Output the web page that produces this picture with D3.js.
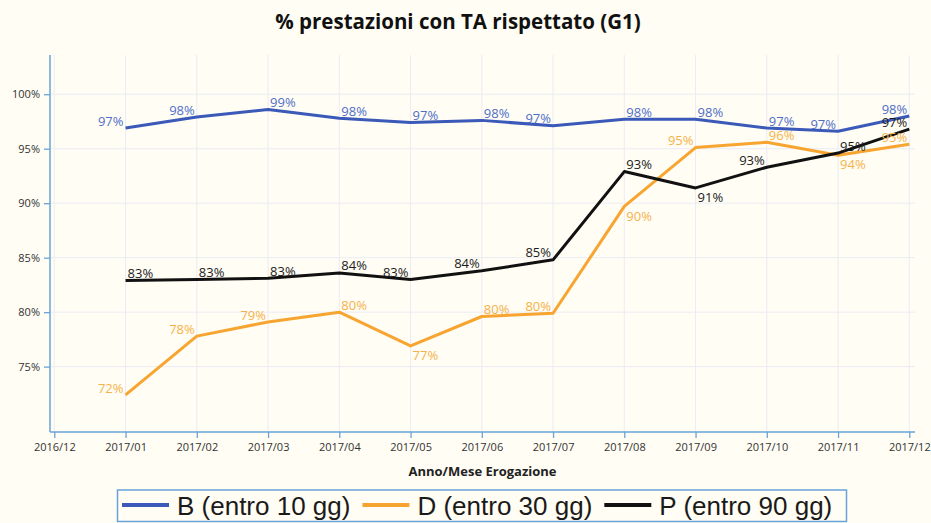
<!DOCTYPE html>
<html>
<head>
<meta charset="utf-8">
<script src="https://cdn.jsdelivr.net/npm/d3@7"></script>
<style>
  html, body { margin: 0; padding: 0; background: #fffdf4; }
  svg { display: block; }
</style>
</head>
<body>
<svg id="chart" width="931" height="523"></svg>
<script>
// ---- data ----
const months = ["2016/12","2017/01","2017/02","2017/03","2017/04","2017/05","2017/06","2017/07","2017/08","2017/09","2017/10","2017/11","2017/12"];
const dataMonths = ["2017/01","2017/02","2017/03","2017/04","2017/05","2017/06","2017/07","2017/08","2017/09","2017/10","2017/11","2017/12"];
const valuesB = [96.9, 97.9, 98.6, 97.8, 97.4, 97.6, 97.1, 97.7, 97.7, 96.9, 96.6, 98.0];
const valuesD = [72.4, 77.8, 79.1, 80.0, 76.9, 79.6, 79.9, 89.7, 95.1, 95.6, 94.4, 95.4];
const valuesP = [82.9, 83.0, 83.1, 83.6, 83.0, 83.8, 84.8, 92.9, 91.4, 93.3, 94.6, 96.8];
const labelPosB = ["tl","tl","tr","tr","tr","tr","tl","tr","tr","tr","tl","tl"];
const labelPosD = ["tl","tl","tl","tr","br","tr","tl","br","tl","tr","br","tl"];
const labelPosP = ["tr","tr","tr","tr","tl","tl","tl","tr","br","tl","tr","tl"];
const yTicks = [75, 80, 85, 90, 95, 100];
const seriesNames = ["B (entro 10 gg)", "D (entro 30 gg)", "P (entro 90 gg)"];
const title = "% prestazioni con TA rispettato (G1)";
const xTitle = "Anno/Mese Erogazione";

// ---- styles ----
const colors = { B: "#3a59b8", D: "#f7a530", P: "#111111" };
const labelColors = { B: "#4f6ec9", D: "#f6b24a", P: "#1c1c1c" };
const axisColor = "#6aa3d8";
const gridColor = "#ebecf5";
const font = "'Open Sans', 'DejaVu Sans', sans-serif";

const svg = d3.select("#chart");
svg.append("rect").attr("width", 931).attr("height", 523).attr("fill", "#fffdf4");

const plot = { left: 50, right: 915, top: 55, bottom: 432 };

const x = d3.scalePoint().domain(months).range([54.3, 909.3]);
const y = d3.scaleLinear().domain([69, 103.6]).range([plot.bottom, plot.top]);

// grid
const grid = svg.append("g");
grid.selectAll("line.h").data(yTicks).join("line")
  .attr("x1", plot.left).attr("x2", plot.right)
  .attr("y1", d => y(d)).attr("y2", d => y(d))
  .attr("stroke", gridColor).attr("stroke-width", 1);
grid.selectAll("line.v").data(months).join("line")
  .attr("x1", d => x(d)).attr("x2", d => x(d))
  .attr("y1", plot.top).attr("y2", plot.bottom)
  .attr("stroke", gridColor).attr("stroke-width", 1);

// axes
const yAxis = d3.axisLeft(y).tickValues(yTicks).tickFormat(d => d + "%").tickSize(6).tickPadding(4);
const yg = svg.append("g").attr("transform", `translate(${plot.left},0)`).call(yAxis);
yg.select(".domain").attr("d", `M0,${plot.top}V${plot.bottom}`);

const xAxis = d3.axisBottom(x).tickSize(6).tickPadding(5);
const xg = svg.append("g").attr("transform", `translate(0,${plot.bottom})`).call(xAxis);
xg.select(".domain").attr("d", `M${plot.left},0H${plot.right}`);

[yg, xg].forEach(g => {
  g.select(".domain").attr("stroke", axisColor).attr("stroke-width", 1.5);
  g.selectAll(".tick line").attr("stroke", axisColor).attr("stroke-width", 1.3);
  g.selectAll(".tick text").attr("fill", "#333").style("font-family", font).style("font-size", "11px");
});

// lines
const series = [
  { key: "B", values: valuesB, pos: labelPosB },
  { key: "D", values: valuesD, pos: labelPosD },
  { key: "P", values: valuesP, pos: labelPosP }
];
const line = d3.line().x((d, i) => x(dataMonths[i])).y(d => y(d));

series.forEach(s => {
  svg.append("path").datum(s.values)
    .attr("d", line)
    .attr("fill", "none")
    .attr("stroke", colors[s.key])
    .attr("stroke-width", 3)
    .attr("stroke-linejoin", "round");
});

// labels
series.forEach(s => {
  svg.append("g").selectAll("text").data(s.values).join("text")
    .attr("x", (d, i) => x(dataMonths[i]) + (s.pos[i][1] === "l" ? -2 : 2))
    .attr("y", (d, i) => y(d) + (s.pos[i][0] === "t" ? -7 : 9.5))
    .attr("dy", "0.35em")
    .attr("text-anchor", (d, i) => s.pos[i][1] === "l" ? "end" : "start")
    .attr("fill", labelColors[s.key])
    .style("font-family", font)
    .style("font-size", "13px")
    .text(d => d3.format(".0f")(d) + "%");
});

// title
svg.append("text")
  .attr("x", 458).attr("y", 29)
  .attr("text-anchor", "middle")
  .attr("fill", "#111")
  .style("font-family", font).style("font-weight", "700").style("font-size", "20.5px")
  .text(title);

// x-axis title
svg.append("text")
  .attr("x", (plot.left + plot.right) / 2).attr("y", 476)
  .attr("text-anchor", "middle")
  .attr("fill", "#222")
  .style("font-family", font).style("font-weight", "700").style("font-size", "13px")
  .text(xTitle);

// legend
const lg = svg.append("g");
lg.append("rect")
  .attr("x", 117.5).attr("y", 490).attr("width", 729).attr("height", 31.5)
  .attr("fill", "none").attr("stroke", axisColor).attr("stroke-width", 1.5);
let cx = 122;
["B", "D", "P"].forEach((k, i) => {
  lg.append("line")
    .attr("x1", cx).attr("x2", cx + 47)
    .attr("y1", 505).attr("y2", 505)
    .attr("stroke", colors[k]).attr("stroke-width", 4);
  cx += 47 + 8;
  const t = lg.append("text")
    .attr("x", cx).attr("y", 515)
    .attr("fill", "#1a1a1a")
    .style("font-family", "'Liberation Sans', Arial, sans-serif")
    .style("font-size", "26px")
    .text(seriesNames[i]);
  cx += t.node().getComputedTextLength() + 12;
});
</script>
</body>
</html>
